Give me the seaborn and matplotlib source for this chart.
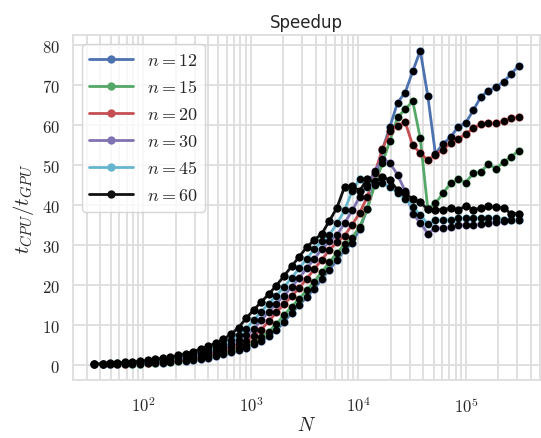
import math
import matplotlib
matplotlib.use('Agg')
import matplotlib.pyplot as plt
import matplotlib.ticker as mticker
import pandas as pd
import seaborn as sns

sns.set_theme(style='whitegrid')
plt.rcParams['mathtext.fontset'] = 'cm'

# problem size N (log spaced)
N = [35, 42, 49, 57, 68, 79, 93, 110, 129, 152, 179, 210, 247, 291, 342, 402,
     473, 556, 654, 769, 904, 1063, 1250, 1470, 1728, 2032, 2390, 2811, 3305,
     3887, 4571, 5376, 6322, 7434, 8742, 10280, 12090, 14220, 16720, 19660,
     23120, 27190, 31970, 37600, 44210, 52000, 61150, 71910, 84560, 99450,
     116950, 137530, 161730, 190190, 223660, 263030, 309310]

# speedup t_CPU / t_GPU for each n
s12 = [0.08, 0.09, 0.1, 0.12, 0.14, 0.17, 0.23, 0.31, 0.41, 0.51, 0.64, 0.82,
       1.02, 1.25, 1.5, 1.78, 2.14, 2.6, 3.1, 3.66, 4.3, 5.1, 6.0, 7.1, 8.6,
       10.7, 12.9, 14.9, 16.9, 19.0, 21.4, 23.8, 26.2, 28.6, 30.5, 34.0, 39.0,
       46.0, 53.8, 59.6, 65.6, 68.1, 73.4, 78.6, 67.2, 52.8, 55.3, 56.9, 59.6,
       60.5, 63.7, 67.0, 68.6, 69.5, 70.8, 72.8, 74.8]
s15 = [0.09, 0.1, 0.12, 0.14, 0.17, 0.22, 0.29, 0.39, 0.49, 0.61, 0.78, 0.98,
       1.2, 1.45, 1.72, 2.06, 2.5, 3.0, 3.54, 4.18, 4.92, 5.8, 6.9, 8.3, 10.2,
       12.4, 14.5, 16.5, 18.6, 20.8, 23.2, 25.6, 28.0, 30.1, 31.8, 34.5, 39.0,
       45.0, 50.5, 56.1, 61.9, 63.9, 66.0, 56.7, 38.9, 40.4, 42.9, 45.4, 46.4,
       45.6, 47.9, 48.3, 50.2, 49.1, 50.7, 52.0, 53.6]
s20 = [0.1, 0.12, 0.15, 0.18, 0.24, 0.32, 0.42, 0.52, 0.66, 0.84, 1.04, 1.27,
       1.52, 1.8, 2.15, 2.65, 3.15, 3.72, 4.4, 5.15, 6.05, 7.2, 8.8, 10.9,
       13.1, 15.1, 17.1, 19.2, 21.5, 23.9, 26.3, 28.7, 30.7, 32.3, 35.0, 38.0,
       42.0, 48.0, 54.0, 58.5, 59.8, 60.8, 54.9, 53.0, 51.2, 52.6, 53.8, 55.5,
       56.5, 57.7, 59.2, 60.2, 60.4, 60.4, 61.0, 61.7, 62.0]
s30 = [0.12, 0.15, 0.19, 0.24, 0.33, 0.43, 0.53, 0.67, 0.86, 1.06, 1.3, 1.55,
       1.84, 2.22, 2.7, 3.2, 3.78, 4.46, 5.24, 6.2, 7.36, 8.96, 11.1, 13.3,
       15.3, 17.3, 19.4, 21.7, 24.1, 26.5, 28.9, 30.9, 32.5, 35.4, 38.6, 42.0,
       45.0, 48.5, 51.6, 50.5, 47.5, 43.5, 37.8, 35.5, 32.8, 34.2, 34.2, 34.4,
       34.9, 35.0, 35.0, 35.1, 35.5, 35.6, 35.9, 36.1, 36.1]
s45 = [0.15, 0.18, 0.24, 0.33, 0.43, 0.53, 0.67, 0.86, 1.06, 1.3, 1.55, 1.84,
       2.22, 2.7, 3.2, 3.78, 4.46, 5.24, 6.2, 7.36, 8.96, 11.1, 13.3, 15.3,
       17.3, 19.4, 21.7, 24.1, 26.5, 28.9, 30.9, 32.5, 35.4, 38.6, 43.5, 46.5,
       44.5, 46.0, 45.4, 44.5, 43.0, 41.5, 39.5, 37.5, 35.2, 36.1, 36.1, 36.3,
       36.7, 36.6, 36.6, 36.6, 36.6, 36.6, 36.3, 36.3, 36.1]
s60 = [0.2, 0.25, 0.35, 0.45, 0.55, 0.7, 0.9, 1.1, 1.35, 1.6, 1.9, 2.3, 2.8,
       3.3, 3.9, 4.6, 5.4, 6.4, 7.6, 9.3, 11.6, 13.7, 15.7, 17.7, 19.8, 22.2,
       24.6, 27.0, 29.4, 31.2, 32.8, 36.0, 39.3, 44.5, 44.7, 43.5, 46.5, 45.5,
       47.0, 46.2, 43.7, 42.9, 41.4, 40.6, 38.9, 38.8, 38.8, 39.2, 38.8, 39.7,
       38.8, 39.2, 39.6, 39.4, 39.2, 37.8, 37.8]

n_values = [12, 15, 20, 30, 45, 60]
speedups = [s12, s15, s20, s30, s45, s60]
colors = ['#4C72B0', '#55A868', '#C44E52', '#8172B2', '#64B5CD', '#111111']

frames = []
for n, s in zip(n_values, speedups):
    frames.append(pd.DataFrame({'N': N, 'speedup': s, 'label': r'$n = %d$' % n}))
df = pd.concat(frames, ignore_index=True)

fig, ax = plt.subplots(figsize=(5.41, 4.39), dpi=100)
fig.subplots_adjust(left=0.135, right=0.998, bottom=0.132, top=0.918)

sns.lineplot(data=df, x='N', y='speedup', hue='label', palette=colors,
             marker='o', markersize=6, markeredgewidth=0, linewidth=2.0,
             ax=ax)
# black dots on top of every line
sns.scatterplot(data=df, x='N', y='speedup', color='black', s=28,
                linewidth=0, legend=False, zorder=5, ax=ax)

ax.set_xscale('log')
ax.set_yticks(range(0, 81, 10))
ax.yaxis.set_major_formatter(mticker.FuncFormatter(lambda v, p: r'$%d$' % v))
ax.xaxis.set_major_formatter(
    mticker.FuncFormatter(lambda v, p: r'$10^{%d}$' % round(math.log10(v))))
ax.grid(True, which='major', color='#dddddd', linewidth=1.3)
ax.xaxis.grid(True, which='minor', color='#dddddd', linewidth=1.3)
for sp in ax.spines.values():
    sp.set_color('#dddddd')
    sp.set_linewidth(1.3)
ax.tick_params(labelsize=12)
ax.tick_params(axis='x', pad=6)

ax.set_title('Speedup', fontsize=12)
ax.set_xlabel(r'$N$', fontsize=14, labelpad=-1)
ax.set_ylabel(r'$t_{CPU}/t_{GPU}$', fontsize=15)

leg = ax.legend(loc='upper left', fontsize=13, title=None, handlelength=2.4)

fig.savefig('out.png', dpi=100)
